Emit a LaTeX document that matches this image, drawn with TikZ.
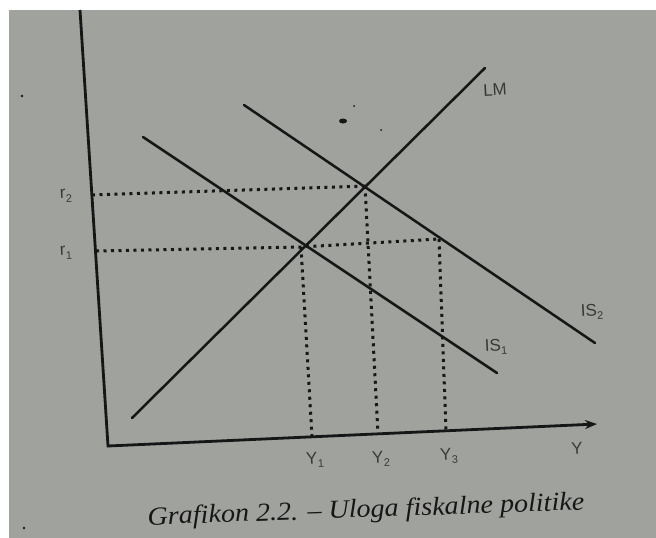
\documentclass[tikz,border=0pt]{standalone}
\usepackage{fontspec}
\setmainfont{Liberation Serif}
\setsansfont{Liberation Sans}
\usetikzlibrary{arrows.meta}
\definecolor{paper}{RGB}{160,162,157}
\definecolor{ink}{RGB}{22,22,22}
\newcommand{\sbs}[1]{\raisebox{-4.5pt}{\fontsize{11}{11}\selectfont #1}}
\begin{document}
\begin{tikzpicture}[x=1pt,y=-1pt,
  curve/.style={line width=2.5pt, draw=ink, line cap=round},
  axis/.style={line width=2.8pt, draw=ink},
  guide/.style={line width=3pt, draw=ink, dash pattern=on 3pt off 4.5pt},
  lbl/.style={font=\sffamily\fontsize{17}{17}\selectfont, text=ink!85, inner sep=0pt, rotate=3},
  speck/.style={fill=ink}
]
\useasboundingbox (0,0) rectangle (656,538);
\fill[white] (0,0) rectangle (656,538);
\fill[paper] (9,10) rectangle (656,538);

% axes
\coordinate (Ytop) at (80,10);
\coordinate (O) at (108,446);
\coordinate (Xend) at (597,424);
\draw[axis,-{Stealth[length=12pt,width=9pt]}] (Ytop) -- (O) -- (Xend);

% curves
\coordinate (LMa) at (132,418);
\coordinate (LMb) at (485,68);
\coordinate (ISa) at (143,137);
\coordinate (ISb) at (497,373);
\coordinate (ISSa) at (244,105);
\coordinate (ISSb) at (595,343);
\draw[curve] (LMa) -- (LMb);
\draw[curve] (ISa) -- (ISb);
\draw[curve] (ISSa) -- (ISSb);

% equilibrium points
\coordinate (E1) at (301,247);
\coordinate (E2) at (365,186);
\coordinate (F) at (439,239);
\coordinate (R1) at (96,251);
\coordinate (R2) at (92,195);
\coordinate (X1) at (312,437);
\coordinate (X2) at (378,434);
\coordinate (X3) at (446,431);

\draw[guide] (R2) -- (E2);
\draw[guide] (R1) -- (E1) -- (F);
\draw[guide] (E1) -- (X1);
\draw[guide] (E2) -- (X2);
\draw[guide] (F) -- (X3);

% labels
\node[lbl] (lLM) at (495,90) {LM};
\node[lbl] (lIS2) at (592,312) {IS\sbs{2}};
\node[lbl] (lIS1) at (496,347) {IS\sbs{1}};
\node[lbl] (lr2) at (66,196) {r\sbs{2}};
\node[lbl] (lr1) at (66,253) {r\sbs{1}};
\node[lbl] (lY1) at (315,460) {Y\sbs{1}};
\node[lbl] (lY2) at (381,459) {Y\sbs{2}};
\node[lbl] (lY3) at (449,456) {Y\sbs{3}};
\node[lbl] (lY) at (577,448) {Y};

% caption
\node[font=\itshape\fontsize{26}{26}\selectfont, text=ink, inner sep=0pt, rotate=2, xscale=1.08] (cap) at (366,511) {Grafikon 2.2. – Uloga fiskalne politike};

% specks
\fill[speck] (343,121) ellipse [x radius=4pt, y radius=2.5pt];
\fill[speck] (354,106) circle [radius=1pt];
\fill[speck] (381,130) circle [radius=1pt];
\fill[speck] (22,96) circle [radius=1.3pt];
\fill[speck] (24,528) circle [radius=1.3pt];
\end{tikzpicture}
\end{document}
